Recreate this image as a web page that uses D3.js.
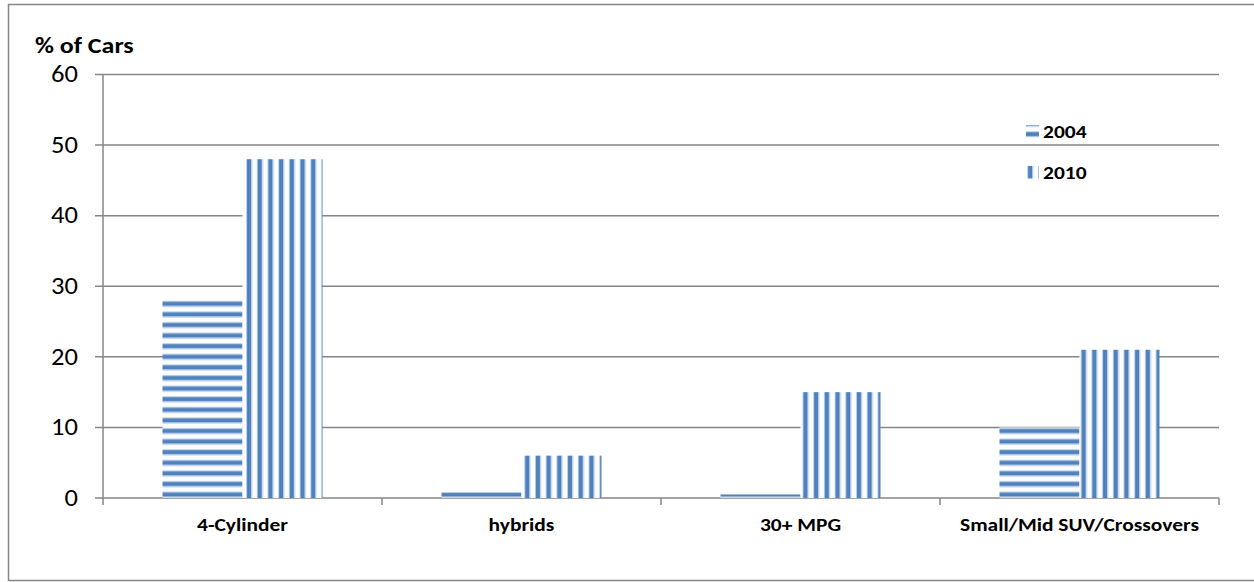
<!DOCTYPE html>
<html>
<head>
<meta charset="utf-8">
<script src="https://cdn.jsdelivr.net/npm/d3@7"></script>
<style>
  body { margin: 0; background: #fff; }
  svg { display: block; font-family: Carlito, Calibri, Lato, "Liberation Sans", sans-serif; }
</style>
</head>
<body>
<svg id="canvas" width="1254" height="582"></svg>
<script>
// chart data
let categories = ['4-Cylinder', 'hybrids', '30+ MPG', 'Small/Mid SUV/Crossovers']
let seriesNames = ['2004', '2010']
let values2004 = [28, 0.8, 0.5, 10]
let values2010 = [48, 6, 15, 21]
let yTicks = [0, 10, 20, 30, 40, 50, 60]

let svg = d3.select('#canvas')

let plotLeft = 103, plotRight = 1219, plotTop = 74.5, plotBottom = 498
// the original picture is a bit stretched sideways
let stretch = 1.13

// stripe patterns (Excel style)
let defs = svg.append('defs')
let hp = defs.append('pattern')
    .attr('id', 'hstripe')
    .attr('patternUnits', 'userSpaceOnUse')
    .attr('width', 10).attr('height', 10.6)
hp.append('rect').attr('width', 10).attr('height', 10.6).attr('fill', '#fbfdff')
hp.append('rect').attr('y', 4).attr('width', 10).attr('height', 1).attr('fill', '#b9cde6')
hp.append('rect').attr('y', 5).attr('width', 10).attr('height', 4.2).attr('fill', '#4f81bd')
hp.append('rect').attr('y', 9.2).attr('width', 10).attr('height', 1).attr('fill', '#b9cde6')

let vp = defs.append('pattern')
    .attr('id', 'vstripe')
    .attr('patternUnits', 'userSpaceOnUse')
    .attr('width', 10.7).attr('height', 10)
vp.append('rect').attr('width', 10.7).attr('height', 10).attr('fill', '#fbfdff')
vp.append('rect').attr('x', 0).attr('width', 1).attr('height', 10).attr('fill', '#b9cde6')
vp.append('rect').attr('x', 1).attr('width', 4.2).attr('height', 10).attr('fill', '#4f81bd')
vp.append('rect').attr('x', 5.2).attr('width', 1).attr('height', 10).attr('fill', '#b9cde6')

let fills = ['url(#hstripe)', 'url(#vstripe)']

// outer frame
svg.append('rect')
    .attr('x', 8.5).attr('y', 4.5)
    .attr('width', 1260).attr('height', 576)
    .attr('fill', 'none')
    .attr('stroke', '#868686')
    .attr('stroke-width', 1.5)

let yScale = d3.scaleLinear().domain([0, 60]).range([plotBottom, plotTop])
let xScale = d3.scaleBand().domain(categories).range([plotLeft, plotRight]).padding(0)
let step = xScale.bandwidth()
let gap = step - 160
let xInner = d3.scaleBand().domain(seriesNames).range([gap / 2, step - gap / 2]).padding(0)

let place = (x, y) => 'translate(' + x + ',' + y + ') scale(' + stretch + ',1)'

// gridlines
svg.append('g')
    .selectAll('line')
    .data(yTicks)
    .enter()
    .append('line')
    .attr('x1', plotLeft - 8)
    .attr('x2', plotRight)
    .attr('y1', (d) => yScale(d))
    .attr('y2', (d) => yScale(d))
    .attr('stroke', '#868686')
    .attr('stroke-width', 1.5)

// y axis line
svg.append('line')
    .attr('x1', plotLeft).attr('x2', plotLeft)
    .attr('y1', plotTop).attr('y2', plotBottom + 7)
    .attr('stroke', '#868686')
    .attr('stroke-width', 1.5)

// category tick marks
svg.append('g')
    .selectAll('line')
    .data(categories)
    .enter()
    .append('line')
    .attr('x1', (d) => xScale(d) + step)
    .attr('x2', (d) => xScale(d) + step)
    .attr('y1', plotBottom)
    .attr('y2', plotBottom + 7)
    .attr('stroke', '#868686')
    .attr('stroke-width', 1.5)

// y tick labels
svg.append('g')
    .selectAll('text')
    .data(yTicks)
    .enter()
    .append('text')
    .attr('transform', (d) => place(78, yScale(d)))
    .attr('dy', '0.33em')
    .attr('text-anchor', 'end')
    .attr('font-size', 23.5)
    .attr('fill', '#000')
    .text((d) => d)

// bars
let allValues = [values2004, values2010]
seriesNames.forEach((s, si) => {
    svg.append('g')
        .selectAll('rect')
        .data(allValues[si])
        .enter()
        .append('rect')
        .attr('x', (d, i) => xScale(categories[i]) + xInner(s))
        .attr('y', (d) => yScale(d))
        .attr('width', xInner.bandwidth())
        .attr('height', (d) => yScale(0) - yScale(d))
        .attr('fill', fills[si])
})

// category labels
svg.append('g')
    .selectAll('text')
    .data(categories)
    .enter()
    .append('text')
    .attr('transform', (d) => place(xScale(d) + step / 2, 531))
    .attr('text-anchor', 'middle')
    .attr('font-size', 19)
    .attr('font-weight', 'bold')
    .text((d) => d)

// axis title
svg.append('text')
    .attr('transform', place(35, 53))
    .attr('font-size', 23)
    .attr('font-weight', 'bold')
    .text('% of Cars')

// legend
let legend = svg.append('g')
seriesNames.forEach((s, i) => {
    let base = 137.5 + i * 41
    legend.append('rect')
        .attr('x', 1026).attr('y', base - 12.5)
        .attr('width', 13).attr('height', 12.5)
        .attr('fill', fills[i])
    legend.append('text')
        .attr('transform', place(1043, base))
        .attr('font-size', 19)
        .attr('font-weight', 'bold')
        .text(s)
})
</script>
</body>
</html>
